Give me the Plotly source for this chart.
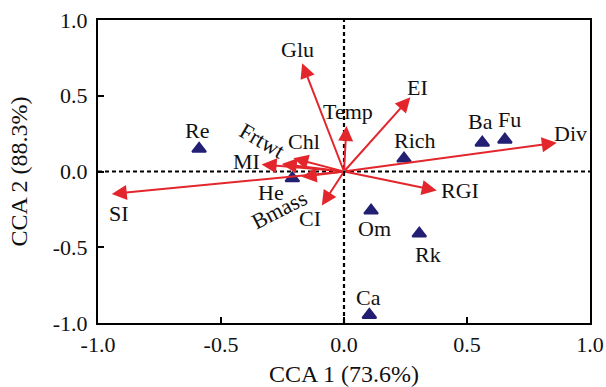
import plotly.graph_objects as go

# Environmental vectors (arrow tips)
env_names = ["Glu", "Temp", "EI", "Div", "RGI", "CI", "Bmass", "SI", "MI", "Frtwt", "Chl"]
env_x = [-0.17, 0.01, 0.27, 0.865, 0.377, -0.09, -0.172, -0.944, -0.335, -0.253, -0.206]
env_y = [0.715, 0.30, 0.49, 0.19, -0.126, -0.225, -0.035, -0.148, 0.046, 0.05, 0.088]

# Sites / species (triangles)
site_names = ["Re", "He", "Rich", "Ba", "Fu", "Om", "Rk", "Ca"]
site_x = [-0.589, -0.21, 0.244, 0.562, 0.654, 0.11, 0.306, 0.103]
site_y = [0.15, -0.045, 0.085, 0.19, 0.21, -0.258, -0.41, -0.947]

x_ticks = [-1.0, -0.5, 0.0, 0.5, 1.0]
y_ticks = [-1.0, -0.5, 0.0, 0.5, 1.0]
x_title = "CCA 1 (73.6%)"
y_title = "CCA 2 (88.3%)"

FONT = "'Liberation Serif', 'Times New Roman', Times, serif"
RED = "#e2262c"
NAVY = "#231f73"
TXT = "#111111"

fig = go.Figure()

# zero dotted lines
fig.add_shape(type="line", x0=0, x1=0, y0=-1, y1=1, xref="x", yref="y",
              line=dict(color="black", width=2.2, dash="4px,3px"), layer="below")
fig.add_shape(type="line", x0=-1, x1=1, y0=0, y1=0, xref="x", yref="y",
              line=dict(color="black", width=2.2, dash="4px,3px"), layer="below")

# arrows
for n, x, y in zip(env_names, env_x, env_y):
    fig.add_annotation(x=x, y=y, ax=0, ay=0, xref="x", yref="y", axref="x", ayref="y",
                       showarrow=True, arrowhead=2, arrowsize=1.5, arrowwidth=2,
                       arrowcolor=RED, text="")

fig.add_trace(go.Scatter(x=site_x, y=site_y, mode="markers",
                         marker=dict(symbol="triangle-up", size=12, color=NAVY,
                                     line=dict(color=NAVY, width=2)),
                         hoverinfo="skip", showlegend=False))

# label offsets in pixels (dx, dy: down positive) and rotation
env_lab = {
    "Glu": (-5, -14, 0), "Temp": (2, -15, 0), "EI": (7, -10, 0), "Div": (14, -9, 0),
    "RGI": (23, 0, 0), "CI": (-12, 13, 0), "Bmass": (-22, 33, -27), "SI": (7, 20, 0),
    "MI": (-15, -3, 0), "Frtwt": (-20, -23, 30), "Chl": (11, -17, 0),
}
for n, x, y in zip(env_names, env_x, env_y):
    dx, dy, rot = env_lab[n]
    fig.add_annotation(x=x, y=y, xref="x", yref="y", text=n, showarrow=False,
                       xshift=dx, yshift=-dy, textangle=rot,
                       font=dict(family=FONT, size=22, color=TXT))

site_lab = {
    "Re": (-2, -18), "He": (-21, 14), "Rich": (11, -18), "Ba": (-2, -21), "Fu": (5, -20),
    "Om": (3, 18), "Rk": (9, 21), "Ca": (-1, -17),
}
for n, x, y in zip(site_names, site_x, site_y):
    dx, dy = site_lab[n]
    fig.add_annotation(x=x, y=y, xref="x", yref="y", text=n, showarrow=False,
                       xshift=dx, yshift=-dy,
                       font=dict(family=FONT, size=22, color=TXT))

axis_common = dict(range=[-1, 1], showgrid=False, zeroline=False, showline=True,
                   linecolor="black", linewidth=2, mirror=True, ticks="inside",
                   ticklen=6, tickwidth=2, tickcolor="black", automargin=False,
                   tickfont=dict(family=FONT, size=22, color=TXT))
fig.update_xaxes(**axis_common, tickvals=x_ticks,
                 ticktext=[("%.1f" % v) for v in x_ticks], ticklabelstandoff=1,
                 title=dict(text=x_title, font=dict(family=FONT, size=24, color=TXT), standoff=14))
fig.update_yaxes(**axis_common, tickvals=y_ticks,
                 ticktext=[("%.1f" % v) for v in y_ticks], ticklabelstandoff=4,
                 title=dict(text=y_title, font=dict(family=FONT, size=24, color=TXT), standoff=18))

fig.update_layout(width=606, height=387, margin=dict(l=98, r=16, t=20, b=64),
                  plot_bgcolor="white", paper_bgcolor="white", showlegend=False,
                  font=dict(family=FONT))

fig.write_html("out.html")
